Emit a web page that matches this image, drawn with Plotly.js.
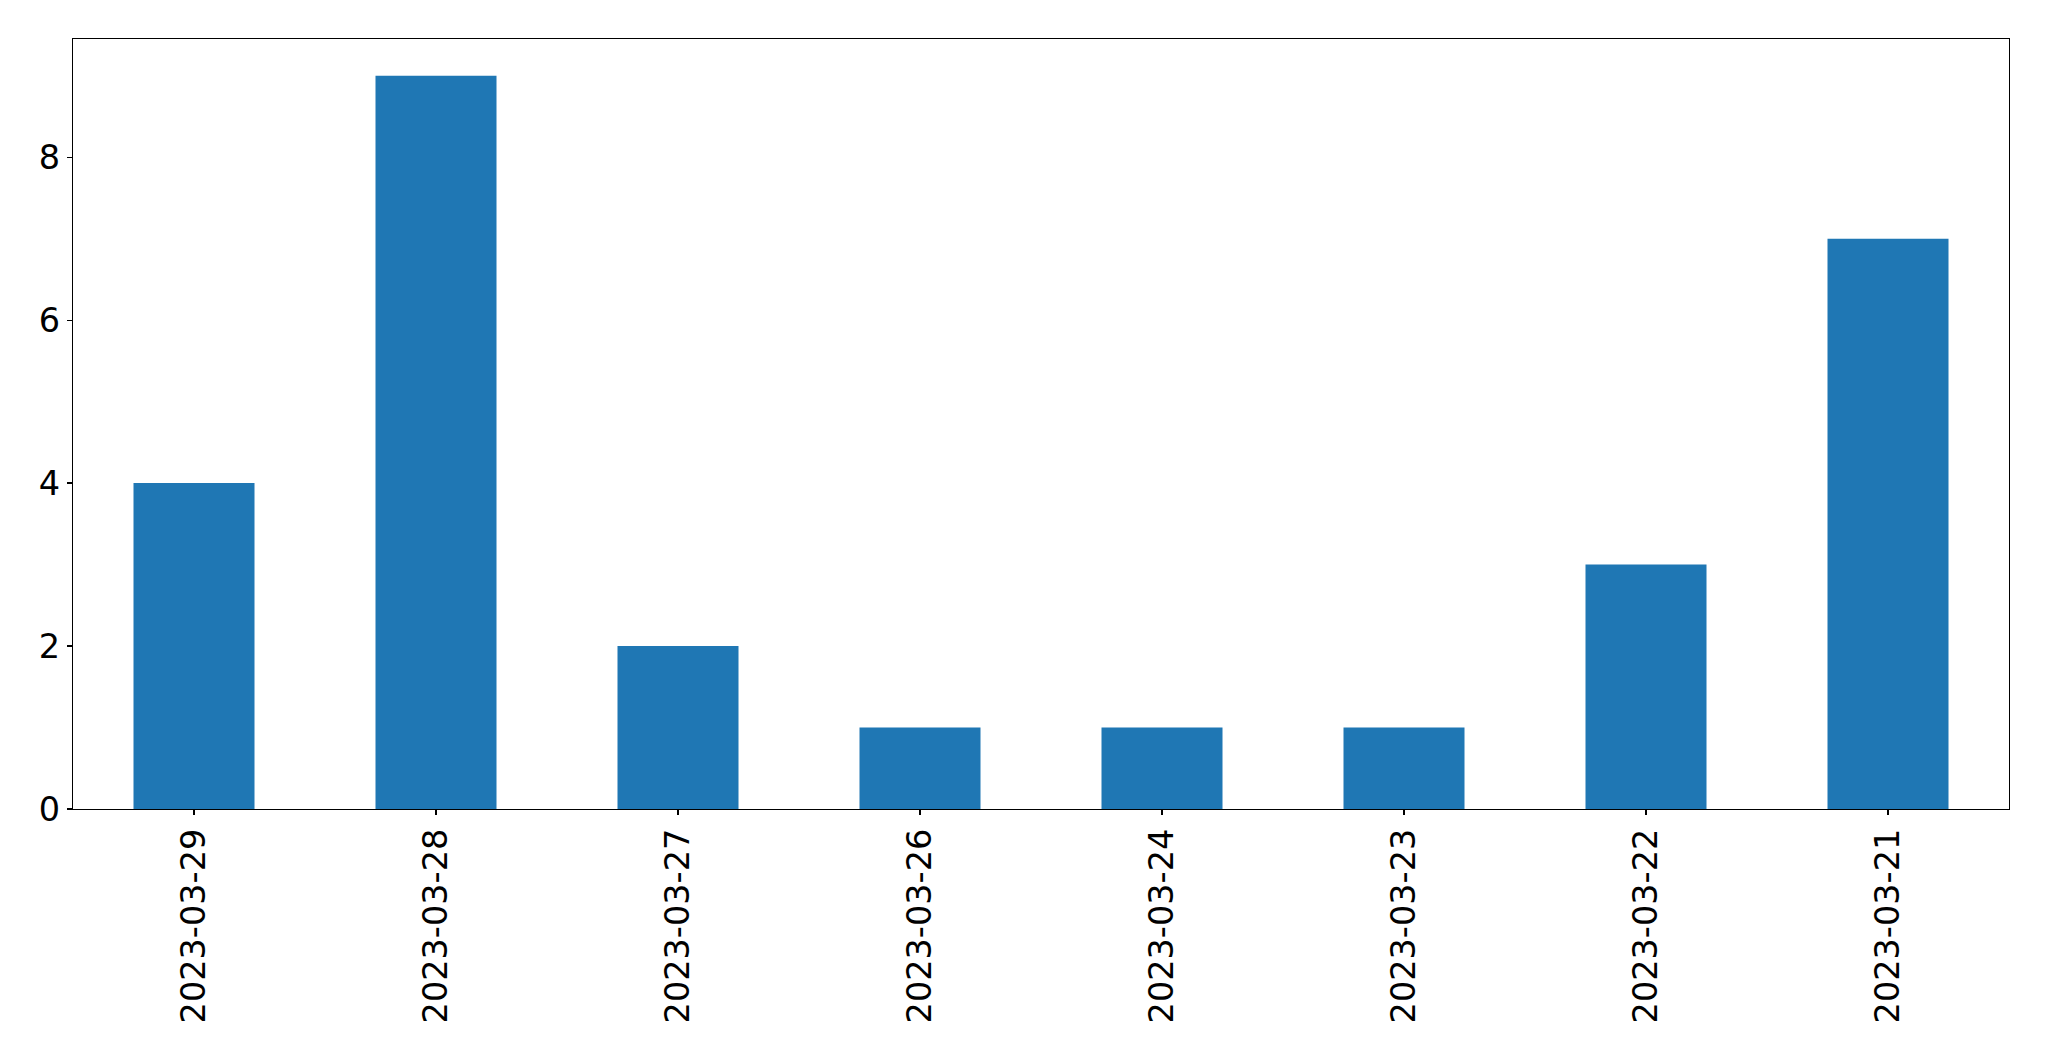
<!DOCTYPE html>
<html>
<head>
<meta charset="utf-8">
<script src="https://cdn.plot.ly/plotly-3.0.1.min.js"></script>
<style>html,body{margin:0;padding:0;background:#fff;}#chart{width:2049px;height:1061px;}</style>
</head>
<body>
<div id="chart"></div>
<script>
const categories = ["2023-03-29","2023-03-28","2023-03-27","2023-03-26","2023-03-24","2023-03-23","2023-03-22","2023-03-21"];
const counts = [4, 9, 2, 1, 1, 1, 3, 7];
const yTicks = [0, 2, 4, 6, 8];

const font = {family: "DejaVu Sans", size: 33.5, color: "#000"};
Plotly.newPlot("chart", [{
  type: "bar",
  x: categories,
  y: counts,
  width: 0.5,
  marker: {color: "#1f77b4", line: {width: 0}},
  hoverinfo: "x+y"
}], {
  width: 2049, height: 1061,
  margin: {l: 72.5, r: 39.7, t: 39.3, b: 252},
  paper_bgcolor: "#fff", plot_bgcolor: "#fff",
  showlegend: false,
  font: font,
  xaxis: {
    type: "category",
    range: [-0.5, 7.5],
    tickangle: -90,
    ticks: "outside", ticklen: 5, tickwidth: 1.2, tickcolor: "#000",
    showline: true, linecolor: "#000", linewidth: 1.3, mirror: true,
    showgrid: false, zeroline: false,
    tickfont: font
  },
  yaxis: {
    range: [0, 9.45],
    tickvals: yTicks,
    ticktext: yTicks.map(String),
    ticks: "outside", ticklen: 5, tickwidth: 1.2, tickcolor: "#000",
    showline: true, linecolor: "#000", linewidth: 1.3, mirror: true,
    showgrid: false, zeroline: false,
    tickfont: font
  }
}, {displayModeBar: false, staticPlot: true});
</script>
</body>
</html>
